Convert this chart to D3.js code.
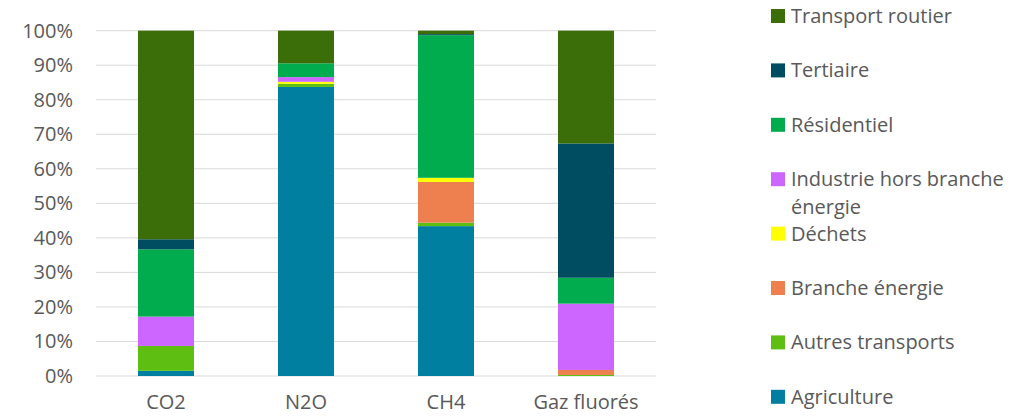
<!DOCTYPE html>
<html><head><meta charset="utf-8">
<script src="https://cdn.jsdelivr.net/npm/d3@7"></script>
<style>
html,body{margin:0;padding:0;background:#fff;}
text{font-family:"Open Sans",sans-serif;fill:#595959;}
</style></head>
<body><svg id="c" width="1032" height="418"></svg>
<script>
const categories = ["CO2", "N2O", "CH4", "Gaz fluorés"];
const seriesNames = ["Agriculture", "Autres transports", "Branche énergie", "Déchets",
  "Industrie hors branche énergie", "Résidentiel", "Tertiaire", "Transport routier"];
const seriesColors = ["#007FA0", "#5FBE12", "#EE8050", "#FFFF00", "#CC66FF", "#00AC4E", "#004C61", "#3B6D08"];
// values in % per category (CO2, N2O, CH4, Gaz fluorés)
const agriculture      = [1.5, 83.7, 43.4, 0.0];
const autresTransports = [7.2, 0.9, 1.0, 0.3];
const brancheEnergie   = [0.0, 0.0, 11.8, 1.45];
const dechets          = [0.0, 0.6, 1.2, 0.0];
const industrie        = [8.5, 1.35, 0.0, 19.2];
const residentiel      = [19.5, 4.0, 41.3, 7.5];
const tertiaire        = [2.9, 0.0, 0.3, 38.9];
const transportRoutier = [60.4, 9.45, 1.0, 32.65];
const yTicks = [0,10,20,30,40,50,60,70,80,90,100];

(function(){
const seriesValues = [agriculture, autresTransports, brancheEnergie, dechets, industrie, residentiel, tertiaire, transportRoutier];
const table = categories.map((c,i)=>{
  const o = {cat:c};
  seriesNames.forEach((s,j)=>{ o[s] = seriesValues[j][i]; });
  return o;
});
const stack = d3.stack().keys(seriesNames)(table);

const svg = d3.select("#c");
const pLeft = 96, pRight = 656, pTop = 30.67, pBottom = 376;
const x = d3.scaleBand().domain(categories).range([pLeft,pRight]).paddingInner(0.6).paddingOuter(0.3);
const y = d3.scaleLinear().domain([0,100]).range([pBottom, pTop]);

// gridlines
svg.append("g").selectAll("line").data(yTicks).join("line")
  .attr("x1", pLeft).attr("x2", pRight)
  .attr("y1", d=>y(d)).attr("y2", d=>y(d))
  .attr("stroke", "#d9d9d9").attr("stroke-width", 1);

// y axis labels
const yAxis = d3.axisLeft(y).tickValues(yTicks).tickFormat(d=>d+"%").tickSize(0).tickPadding(0);
const ya = svg.append("g").attr("transform", `translate(73,0)`).call(yAxis);
ya.select(".domain").remove();
ya.selectAll("text").attr("font-size", 20).attr("font-family", '"Open Sans",sans-serif').attr("fill", "#595959");

// bars
svg.append("g").selectAll("g").data(stack).join("g")
  .attr("fill", (d,i)=>seriesColors[i])
  .selectAll("rect").data(d=>d).join("rect")
  .attr("x", d=>x(d.data.cat))
  .attr("width", x.bandwidth())
  .attr("y", d=>y(d[1]))
  .attr("height", d=>Math.max(0, y(d[0])-y(d[1])));

// x axis labels
const xAxis = d3.axisBottom(x).tickSize(0).tickPadding(0);
const xa = svg.append("g").attr("transform", `translate(0,395)`).call(xAxis);
xa.select(".domain").remove();
xa.selectAll("text").attr("font-size", 20).attr("font-family", '"Open Sans",sans-serif').attr("fill", "#595959");

// legend
const legendOrder = seriesNames.map((s,i)=>i).reverse();
const legendLines = {"Industrie hors branche énergie": ["Industrie hors branche", "énergie"]};
const lg = svg.append("g");
legendOrder.forEach((si, k)=>{
  const cy = 16 + k*54.4;
  lg.append("rect").attr("x", 771).attr("y", cy-7).attr("width", 14).attr("height", 14).attr("fill", seriesColors[si]);
  const lines = legendLines[seriesNames[si]] || [seriesNames[si]];
  lines.forEach((t,li)=>{
    lg.append("text").attr("x", 791).attr("y", cy + 7 + li*28).attr("font-size", 20).text(t);
  });
});
})();
</script></body></html>
